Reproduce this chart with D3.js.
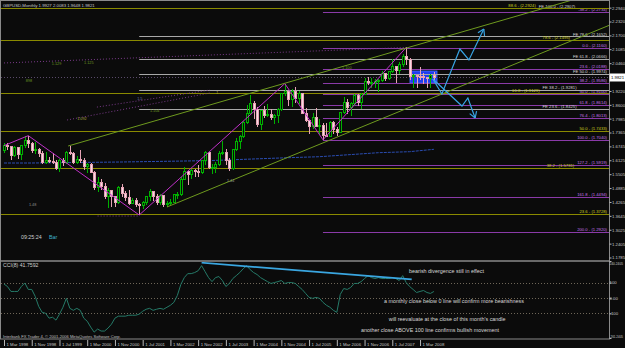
<!DOCTYPE html>
<html>
<head>
<meta charset="utf-8">
<script src="https://cdn.jsdelivr.net/npm/d3@7"></script>
<style>
  body { margin: 0; background: #000; }
  svg { display: block; font-family: "Liberation Sans", Arial, sans-serif; }
</style>
</head>
<body>
<div id="chart"></div>
<script>
// GBPUSD monthly bars, Mar 1998 .. Jul 2008
const opens = [
    1.6560,1.6800,1.6720,1.6330,1.6700,1.6400,1.6770,1.7020,1.6880,1.6540,
    1.6620,1.6450,1.6010,1.6120,1.6090,1.6030,1.5770,1.6100,1.6020,1.6480,
    1.6450,1.6020,1.6150,1.6120,1.5840,1.5920,1.5580,1.4930,1.5130,1.4950,
    1.4510,1.4770,1.4490,1.4230,1.4930,1.4650,1.4470,1.4200,1.4330,1.4170,
    1.4100,1.4230,1.4520,1.4720,1.4520,1.4260,1.4550,1.4150,1.4200,1.4260,
    1.4580,1.4600,1.5280,1.5620,1.5480,1.5680,1.5620,1.5560,1.6100,1.6470,
    1.5800,1.5810,1.5950,1.6410,1.6480,1.6100,1.5740,1.6600,1.6950,1.7200,
    1.7820,1.8200,1.8680,1.8380,1.7730,1.8340,1.8140,1.8190,1.8050,1.8120,
    1.8390,1.9100,1.9200,1.8850,1.9210,1.8900,1.9090,1.8200,1.7920,1.7620,
    1.8050,1.7650,1.7700,1.7250,1.7200,1.7800,1.7500,1.7370,1.8240,1.8700,
    1.8490,1.8680,1.9030,1.8700,1.9080,1.9650,1.9580,1.9620,1.9640,1.9670,
    1.9990,1.9790,2.0070,2.0320,2.0140,2.0420,2.0770,2.0630,1.9880,1.9890,
    1.9860,1.9850,1.9800,1.9760,1.9927
];
const highs = [
    1.6880,1.6900,1.6780,1.6780,1.6720,1.6800,1.7200,1.7225,1.6950,1.6960,
    1.6680,1.6530,1.6480,1.6270,1.6440,1.6130,1.6180,1.6220,1.6520,1.6770,
    1.6490,1.6300,1.6570,1.6220,1.6000,1.6020,1.5640,1.5390,1.5290,1.5120,
    1.4900,1.4800,1.4500,1.4990,1.5050,1.4760,1.4800,1.4420,1.4440,1.4220,
    1.4310,1.4550,1.4850,1.4730,1.4640,1.4600,1.4560,1.4300,1.4400,1.4600,
    1.4700,1.5380,1.5840,1.5630,1.5740,1.5720,1.5900,1.6140,1.6520,1.6500,
    1.5940,1.6030,1.6550,1.6980,1.6620,1.6220,1.6650,1.7120,1.7270,1.7860,
    1.8600,1.9050,1.8780,1.8500,1.8370,1.8560,1.8630,1.8400,1.8170,1.8450,
    1.9140,1.9549,1.9210,1.9300,1.9400,1.9210,1.9150,1.8440,1.7940,1.8240,
    1.8470,1.7960,1.7800,1.7770,1.7880,1.7880,1.7620,1.8260,1.8960,1.8840,
    1.8740,1.9090,1.9070,1.9140,1.9790,1.9850,1.9800,1.9740,1.9760,2.0130,
    2.0030,2.0130,2.0650,2.0350,2.0500,2.0890,2.1161,2.0690,1.9990,1.9940,
    2.0300,2.0000,1.9850,1.9980,2.0083
];
const lows = [
    1.6460,1.6580,1.6150,1.6260,1.6180,1.6160,1.6660,1.6680,1.6450,1.6420,
    1.6290,1.5950,1.5960,1.5990,1.5980,1.5690,1.5600,1.5860,1.5980,1.6350,
    1.5980,1.5970,1.6020,1.5700,1.5580,1.5550,1.4780,1.4690,1.4800,1.4380,
    1.3980,1.4060,1.4060,1.4190,1.4500,1.4300,1.4150,1.4160,1.4050,1.3682,
    1.3970,1.4130,1.4330,1.4320,1.4120,1.4150,1.4030,1.4050,1.4110,1.4230,
    1.4390,1.4530,1.5240,1.5000,1.5290,1.5370,1.5400,1.5500,1.5900,1.5720,
    1.5530,1.5540,1.5880,1.6380,1.5900,1.5640,1.5710,1.6540,1.6630,1.7140,
    1.7750,1.8180,1.7960,1.7590,1.7480,1.8020,1.8050,1.7930,1.7760,1.7810,
    1.8320,1.9010,1.8540,1.8520,1.8700,1.8650,1.8180,1.7840,1.7300,1.7540,
    1.7600,1.7280,1.7040,1.7150,1.7160,1.7280,1.7200,1.7330,1.8200,1.8200,
    1.8100,1.8560,1.8570,1.8430,1.9020,1.9470,1.9330,1.9340,1.9180,1.9640,
    1.9680,1.9730,2.0040,1.9590,1.9980,2.0280,2.0360,1.9720,1.9340,1.9360,
    1.9700,1.9550,1.9360,1.9340,1.9648
];
const closes = [
    1.6800,1.6720,1.6330,1.6700,1.6400,1.6770,1.7020,1.6880,1.6540,1.6620,
    1.6450,1.6010,1.6120,1.6090,1.6030,1.5770,1.6100,1.6020,1.6480,1.6450,
    1.6020,1.6150,1.6120,1.5840,1.5920,1.5580,1.4930,1.5130,1.4950,1.4510,
    1.4770,1.4490,1.4230,1.4930,1.4650,1.4470,1.4200,1.4330,1.4170,1.4100,
    1.4230,1.4520,1.4720,1.4520,1.4260,1.4550,1.4150,1.4200,1.4260,1.4580,
    1.4600,1.5280,1.5620,1.5480,1.5680,1.5620,1.5560,1.6100,1.6470,1.5800,
    1.5810,1.5950,1.6410,1.6480,1.6100,1.5740,1.6600,1.6950,1.7200,1.7820,
    1.8200,1.8680,1.8380,1.7730,1.8340,1.8140,1.8190,1.8050,1.8120,1.8390,
    1.9100,1.9200,1.8850,1.9210,1.8900,1.9090,1.8200,1.7920,1.7620,1.8050,
    1.7650,1.7700,1.7250,1.7200,1.7800,1.7500,1.7370,1.8240,1.8700,1.8490,
    1.8680,1.9030,1.8700,1.9080,1.9650,1.9580,1.9620,1.9640,1.9670,1.9990,
    1.9790,2.0070,2.0320,2.0140,2.0420,2.0770,2.0630,1.9880,1.9890,1.9860,
    1.9850,1.9800,1.9760,1.9930,1.9821
];
const cciValues = [
    90, 74, 42, 42, 42, 74, 97, 55, 55, 10,
    -55, -94, -100, -132, -126, -145, -106, -61, -3, -68,
    -81, -68, -81, -132, -152, -190, -223, -203, -216, -216,
    -197, -171, -132, -119, -119, -119, -113, -113, -113, -106,
    -87, -74, -68, -81, -74, -68, -74, -61, -48, -29,
    16, 87, 132, 158, 158, 165, 177, 210, 171, 132,
    106, 132, 139, 113, 74, 94, 126, 145, 165, 190,
    210, 184, 165, 152, 132, 119, 106, 94, 100, 106,
    113, 94, 100, 100, 94, 74, 55, 29, 3, -3,
    3, -3, -29, -48, -61, -81, -94, 23, 61, 55,
    68, 94, 94, 106, 126, 145, 132, 126, 132, 126,
    126, 126, 132, 126, 113, 145, 100, 74, 55, 35,
    42, 48, 35, 29, 41.7592
];

const dateLabels = ["1 Mar 1998", "1 Nov 1998", "1 Jul 1999", "1 Mar 2000", "1 Nov 2000", "1 Jul 2001",
    "1 Mar 2002", "1 Nov 2002", "1 Jul 2003", "1 Mar 2004", "1 Nov 2004", "1 Jul 2005",
    "1 Mar 2006", "1 Nov 2006", "1 Jul 2007", "1 Mar 2008"];
const dateBars = [0, 8, 16, 24, 32, 40, 48, 56, 64, 72, 80, 88, 96, 104, 112, 120];

const priceTicks = ["2.2940", "2.2320", "2.1700", "2.1085", "2.0460", "1.9840", "1.9220", "1.8600",
    "1.7985", "1.7365", "1.6745", "1.6125", "1.5505", "1.4885", "1.4265", "1.3645", "1.3025",
    "1.2405", "1.1785"];
const cciTicks = ["240.2405", "100", "0.00", "-100", "-261.2405"];
const cciTickValues = [240.2405, 100, 0, -100, -261.2405];
const cciLevels = [100, 0, -100];

// fibonacci objects
const retracePcts = ["-38.2", "0.0", "23.6", "38.2", "50.0", "61.8", "76.4", "100.0", "127.2", "161.8", "200.0"];
const retracePrices = [2.2734, 2.1160, 2.0188, 1.9586, 1.9100, 1.8614, 1.8013, 1.7040, 1.5919, 1.4494, 1.2920];
const fePcts = ["23.6", "38.2", "50.0", "61.8", "78.6", "100.0"];
const fePrices = [1.8425, 1.9281, 1.9974, 2.0666, 2.1652, 2.2907];
const olivePcts = ["23.6", "38.2", "50.0", "61.8", "78.6", "88.6"];
const olivePrices = [1.3728, 1.5781, 1.7433, 1.9129, 2.1495, 2.2924];

// long moving average
const maBars = [0, 8, 34, 59, 82, 91, 108, 117, 124];
const maPrices = [1.6004, 1.6004, 1.6049, 1.6110, 1.6241, 1.6285, 1.6464, 1.6509, 1.6616];

// drawn objects, in bar / price units
const zigBars = [0, 7, 39, 81, 92, 116];
const zigPrices = [1.6780, 1.7225, 1.3682, 1.9549, 1.7040, 2.1161];
const upperChannel = { bars: [18.5, 115.1], prices: [1.6763, 2.1093] };
const lowerChannel = { bars: [47.0, 115.1], prices: [1.4040, 1.8370] };
const topTrend = { bars: [0, 116], prices: [2.0470, 2.1161] };
const midTrends = [
    { bars: [18.2, 59.4], prices: [1.7924, 1.9129] },
    { bars: [26.8, 59.4], prices: [1.8500, 1.9263] }
];
const lowTrend = { bars: [27, 39], prices: [1.3638, 1.3638] };
const boxBars = [117.1, 124.9];
const boxPrices = [1.9575, 2.0111];
const arrowUp = { bars: [123.7, 126.3, 131.5, 134.1, 138.4], prices: [1.9754, 1.9084, 2.1093, 2.0602, 2.1986] };
const arrowDown = { bars: [123.7, 132.1, 133.8, 135.9], prices: [1.9754, 1.8549, 1.8906, 1.8013] };

const chartTags = [
    { bar: 13.8, price: 2.0379, text: "1.129", color: "#6b9a23" },
    { bar: 23.1, price: 2.0424, text: "1.125", color: "#6b9a23" },
    { bar: 6.3, price: 1.9620, text: "898", color: "#6b9a23" },
    { bar: 21.1, price: 1.7924, text: "1.092", color: "#a8a840" },
    { bar: 42.1, price: 1.8281, text: "1.104", color: "#6b9a23" },
    { bar: 97.5, price: 2.0201, text: "1.100", color: "#6b9a23" },
    { bar: 61.2, price: 1.9085, text: "1", color: "#a8a840" },
    { bar: 7.2, price: 1.4085, text: "1.48", color: "#909090" },
    { bar: 64.3, price: 1.5156, text: "1.44", color: "#909090" },
    { bar: 38.4, price: 1.8812, text: "1.5", color: "#7070b0" }
];

const divBars = [57, 117.6];
const divCci = [229, 120];
const cciNotes = [
    { bar: 116.8, cci: 159, text: "bearish divergence still in effect" },
    { bar: 109.6, cci: -35, text: "a monthly close below 0 line will confirm more bearishness" },
    { bar: 111.0, cci: -150, text: "will reevaluate at the close of this month's candle" },
    { bar: 103.0, cci: -225, text: "another close ABOVE 100 line confirms bullish movement" }
];

class MonthlyChart {
    constructor() {
        this.config();
        this.init();
    }

    config() {
        this.width = 625;
        this.height = 348;
        this.axisX = 609;
        this.mainBottom = 260;
        this.cciTop = 261;
        this.cciBottom = 338;
        this.bg = "#0b0b0b";
        this.last = closes[closes.length - 1];
        this.placedLabels = [];
    }

    init() {
        this.initSVG();
        this.initScales();
        this.drawBox();
        this.drawLevels();
        this.drawIndicatorLines();
        this.drawCandles();
        this.drawObjects();
        this.drawCci();
        this.drawAxes();
        this.drawLabels();
    }

    initSVG() {
        this.svg = d3.select("#chart").append("svg")
            .attr("width", this.width).attr("height", this.height);
        this.svg.append("rect").attr("width", this.width).attr("height", this.height).attr("fill", this.bg);

        const defs = this.svg.append("defs");
        defs.append("clipPath").attr("id", "main-clip").append("rect")
            .attr("x", 1).attr("y", 1).attr("width", this.axisX - 1).attr("height", this.mainBottom - 1);
        defs.append("clipPath").attr("id", "cci-clip").append("rect")
            .attr("x", 1).attr("y", this.cciTop + 1).attr("width", this.axisX - 1)
            .attr("height", this.cciBottom - this.cciTop - 1);

        this.main = this.svg.append("g").attr("clip-path", "url(#main-clip)");
        this.cci = this.svg.append("g").attr("clip-path", "url(#cci-clip)");
    }

    initScales() {
        this.x = d3.scaleLinear().domain([0, 124]).range([4, 433.9]);
        this.y = d3.scaleLinear().domain([1.1674, 2.3236]).range([this.mainBottom, 1]);
        this.yc = d3.scaleLinear().domain([-261.2405, 240.2405]).range([this.cciBottom, this.cciTop]);
        this.line = d3.line().x(d => this.x(d[0])).y(d => this.y(d[1]));
    }

    crisp(v) {
        return Math.round(v) + 0.5;
    }

    drawBox() {
        this.main.append("rect")
            .attr("x", this.x(boxBars[0])).attr("width", this.x(boxBars[1]) - this.x(boxBars[0]))
            .attr("y", this.y(boxPrices[1])).attr("height", this.y(boxPrices[0]) - this.y(boxPrices[1]))
            .attr("fill", "#1f3cf0").attr("stroke", "#4a70ff").attr("stroke-width", 0.8);
    }

    // right-aligned level label, pushed left while it collides with one already placed
    placeLabel(g, y, text, color) {
        const t = g.append("text").attr("y", y).attr("text-anchor", "end")
            .attr("font-size", 4.2).attr("fill", color).text(text);
        const w = t.node().getComputedTextLength();
        let end = this.axisX - 2;
        let moved = true;
        while (moved) {
            moved = false;
            for (const p of this.placedLabels) {
                if (Math.abs(p.y - y) < 4.6 && end > p.end - p.w - 1 && end - w < p.end + 1) {
                    end = p.end - p.w - 3;
                    moved = true;
                }
            }
        }
        t.attr("x", end);
        this.placedLabels.push({ y, end, w });
    }

    drawLevelSet(pcts, prices, startX, lineColor) {
        const g = this.main.append("g");
        g.selectAll("line").data(prices).enter().append("line")
            .attr("x1", startX).attr("x2", this.axisX)
            .attr("y1", d => this.crisp(this.y(d))).attr("y2", d => this.crisp(this.y(d)))
            .attr("stroke", lineColor).attr("stroke-width", 1);
        return g;
    }

    drawLevels() {
        const sets = [
            [retracePcts, retracePrices, this.x(92), "#8a3aa8", "#c878e8", ""],
            [fePcts, fePrices, this.x(39), "#a8a8a8", "#d8d8d8", "FE "],
            [olivePcts, olivePrices, 1, "#8a8a00", "#d0d020", ""]
        ];
        const groups = sets.map(s => this.drawLevelSet(s[0], s[1], s[2], s[3]));
        sets.forEach(([pcts, prices, , , textColor, prefix], k) => {
            prices.forEach((p, i) => {
                this.placeLabel(groups[k], this.y(p) - 0.8, `${prefix}${pcts[i]} - (${p.toFixed(4)})`, textColor);
            });
        });
    }

    drawIndicatorLines() {
        this.main.append("path")
            .attr("d", this.line(maBars.map((b, i) => [b, maPrices[i]])))
            .attr("fill", "none").attr("stroke", "#2a4cb0").attr("stroke-width", 1)
            .attr("stroke-dasharray", "3,1");

        this.main.append("line")
            .attr("x1", 1).attr("x2", this.axisX)
            .attr("y1", this.crisp(this.y(this.last))).attr("y2", this.crisp(this.y(this.last)))
            .attr("stroke", "#5a4a6a").attr("stroke-dasharray", "1,2");

        [topTrend, lowTrend, ...midTrends].forEach(t => {
            this.main.append("path")
                .attr("d", this.line(t.bars.map((b, i) => [b, t.prices[i]])))
                .attr("fill", "none").attr("stroke", "#7a3a8a").attr("stroke-width", 1)
                .attr("stroke-dasharray", "1,2");
        });
    }

    drawCandles() {
        const bars = d3.range(opens.length);
        const up = i => closes[i] >= opens[i];
        const g = this.main.append("g").attr("shape-rendering", "crispEdges");

        g.selectAll(".wick").data(bars).enter().append("line")
            .attr("x1", i => this.crisp(this.x(i))).attr("x2", i => this.crisp(this.x(i)))
            .attr("y1", i => this.y(highs[i])).attr("y2", i => this.y(lows[i]))
            .attr("stroke", i => up(i) ? "#00b000" : "#e6a3b5");

        g.selectAll(".body").data(bars).enter().append("rect")
            .attr("x", i => Math.round(this.x(i)) - 0.5).attr("width", 2)
            .attr("y", i => this.y(Math.max(opens[i], closes[i])))
            .attr("height", i => Math.max(1, Math.abs(this.y(opens[i]) - this.y(closes[i]))))
            .attr("fill", i => up(i) ? this.bg : "#f6dbe2")
            .attr("stroke", i => up(i) ? "#00b000" : "#e6a3b5").attr("stroke-width", 1);
    }

    ray(t) {
        const end = this.x.invert(this.axisX + 4);
        const slope = (t.prices[1] - t.prices[0]) / (t.bars[1] - t.bars[0]);
        return [[t.bars[0], t.prices[0]], [end, t.prices[0] + slope * (end - t.bars[0])]];
    }

    drawArrow(a) {
        const pts = a.bars.map((b, i) => [b, a.prices[i]]);
        this.main.append("path").attr("d", this.line(pts))
            .attr("fill", "none").attr("stroke", "#38a4e4").attr("stroke-width", 1.2);

        const p1 = pts[pts.length - 2], p2 = pts[pts.length - 1];
        const tx = this.x(p2[0]), ty = this.y(p2[1]);
        const ang = Math.atan2(this.y(p1[1]) - ty, this.x(p1[0]) - tx);
        [-0.55, 0.55].forEach(da => {
            this.main.append("line")
                .attr("x1", tx).attr("y1", ty)
                .attr("x2", tx + 7 * Math.cos(ang + da)).attr("y2", ty + 7 * Math.sin(ang + da))
                .attr("stroke", "#38a4e4").attr("stroke-width", 1.2);
        });
    }

    drawObjects() {
        this.main.append("path")
            .attr("d", this.line(zigBars.map((b, i) => [b, zigPrices[i]])))
            .attr("fill", "none").attr("stroke", "#c030c8").attr("stroke-width", 1);

        [upperChannel, lowerChannel].forEach(c => {
            this.main.append("path").attr("d", this.line(this.ray(c)))
                .attr("fill", "none").attr("stroke", "#6e9a1e").attr("stroke-width", 1);
        });

        this.drawArrow(arrowUp);
        this.drawArrow(arrowDown);

        this.main.selectAll(".tag").data(chartTags).enter().append("text")
            .attr("x", d => this.x(d.bar)).attr("y", d => this.y(d.price))
            .attr("font-size", 3.8).attr("fill", d => d.color).text(d => d.text);
    }

    drawCci() {
        this.cci.selectAll(".lvl").data(cciLevels).enter().append("line")
            .attr("x1", 1).attr("x2", this.axisX)
            .attr("y1", d => this.crisp(this.yc(d))).attr("y2", d => this.crisp(this.yc(d)))
            .attr("stroke", "#6e6658").attr("stroke-dasharray", "1,2");

        this.cci.append("path")
            .attr("d", d3.line().x((d, i) => this.x(i)).y(d => this.yc(d))(cciValues))
            .attr("fill", "none").attr("stroke", "#257a68").attr("stroke-width", 1);

        this.cci.append("path")
            .attr("d", d3.line().x(d => this.x(d[0])).y(d => this.yc(d[1]))(divBars.map((b, i) => [b, divCci[i]])))
            .attr("fill", "none").attr("stroke", "#3aa6e0").attr("stroke-width", 1.8);

        this.cci.selectAll(".note").data(cciNotes).enter().append("text")
            .attr("x", d => this.x(d.bar)).attr("y", d => this.yc(d.cci))
            .attr("font-size", 5.4).attr("fill", "#d8d8d8").text(d => d.text);

        this.cci.append("text").attr("x", 3).attr("y", this.cciTop + 6)
            .attr("font-size", 5.2).attr("fill", "#d0d0d0")
            .text(`CCI(8) ${cciValues[cciValues.length - 1].toFixed(4)}`);
    }

    drawAxes() {
        const frame = this.svg.append("g").attr("stroke", "#8a8a8a").attr("fill", "none");
        frame.append("rect").attr("x", 0.5).attr("y", 0.5).attr("width", this.axisX).attr("height", this.cciBottom + 0.5);
        frame.append("line").attr("x1", 0).attr("x2", this.axisX).attr("y1", this.cciTop).attr("y2", this.cciTop)
            .attr("stroke-width", 1.6);

        const yLast = this.y(this.last);
        const priceVals = priceTicks.map(Number).filter(v => Math.abs(this.y(v) - yLast) > 6);
        const pAxis = this.svg.append("g").attr("transform", `translate(${this.axisX + 0.5},0)`)
            .call(d3.axisRight(this.y).tickValues(priceVals).tickSize(2).tickFormat(d3.format(".4f")));
        this.styleAxis(pAxis);
        pAxis.selectAll("text").attr("x", 2.5);

        const cAxis = this.svg.append("g").attr("transform", `translate(${this.axisX + 0.5},0)`)
            .call(d3.axisRight(this.yc).tickValues(cciTickValues).tickSize(2).tickFormat((d, i) => cciTicks[i]));
        this.styleAxis(cAxis);
        cAxis.selectAll("text").attr("x", 0)
            .attr("dy", (d, i) => i === 0 ? "1.1em" : (i === cciTicks.length - 1 ? "-0.1em" : "0.32em"))
            .each(function (d, i) {
                if (cciTicks[i].length > 5) {
                    d3.select(this).attr("font-size", 3.3)
                        .attr("textLength", 13.5).attr("lengthAdjust", "spacingAndGlyphs");
                }
            });

        const dAxis = this.svg.append("g").attr("transform", `translate(0,${this.cciBottom + 2})`)
            .call(d3.axisBottom(this.x).tickValues(dateBars).tickSize(6).tickFormat((d, i) => dateLabels[i]));
        this.styleAxis(dAxis);
        dAxis.selectAll("text").attr("x", 2).attr("y", 3.2).attr("dy", "0.71em").attr("text-anchor", "start");

        const box = this.svg.append("g");
        box.append("rect").attr("x", this.axisX + 0.5).attr("y", yLast - 4).attr("width", 15.5).attr("height", 8)
            .attr("fill", "#ffffff");
        box.append("text").attr("x", this.axisX + 2).attr("y", yLast + 1.6)
            .attr("font-size", 4.3).attr("fill", "#000").text(this.last.toFixed(4));
    }

    styleAxis(g) {
        g.select(".domain").remove();
        g.selectAll("line").attr("stroke", "#b8b8b8");
        g.selectAll("text").attr("fill", "#c8c8c8").attr("font-size", 4.3)
            .attr("font-family", "'Liberation Sans', Arial, sans-serif");
    }

    drawLabels() {
        const n = opens.length - 1;
        this.svg.append("text").attr("x", 3).attr("y", 6.5).attr("font-size", 4.3).attr("fill", "#c8c8c8")
            .text(`GBPUSD,Monthly  ${opens[n].toFixed(4)} ${highs[n].toFixed(4)} ${lows[n].toFixed(4)} ${closes[n].toFixed(4)}`);

        this.svg.append("text").attr("x", 3).attr("y", 337.5).attr("font-size", 4.1).attr("fill", "#c0c0c0")
            .text("Interbank FX Trader 4, \u00a9 2001-2006 MetaQuotes Software Corp.");

        this.svg.append("text").attr("x", 21).attr("y", 239).attr("font-size", 5.3).attr("fill", "#d0d0d0")
            .text("09:25:24");
        this.svg.append("text").attr("x", 49).attr("y", 239).attr("font-size", 5.3).attr("fill", "#3fb4cc")
            .text("Bar");
    }
}

new MonthlyChart();
</script>
</body>
</html>
